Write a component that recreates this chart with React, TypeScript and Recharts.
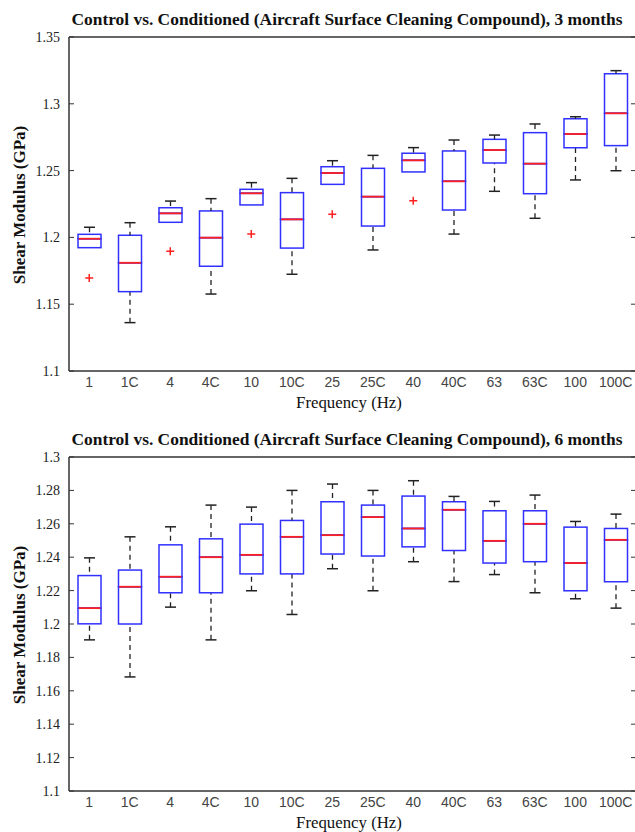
import React from "react";
import { ComposedChart, Bar, Line, XAxis, YAxis, ReferenceLine } from "recharts";

const categories = ["1", "1C", "4", "4C", "10", "10C", "25", "25C", "40", "40C", "63", "63C", "100", "100C"];

// 3 months
const min3 = [1.1923, 1.1362, 1.2113, 1.1576, 1.2243, 1.1724, 1.2397, 1.1906, 1.249, 1.2025, 1.2345, 1.2143, 1.243, 1.2499];
const q1_3 = [1.1923, 1.1594, 1.2113, 1.1784, 1.2243, 1.192, 1.2397, 1.2085, 1.249, 1.2205, 1.2557, 1.2327, 1.2671, 1.2687];
const med3 = [1.199, 1.181, 1.218, 1.1998, 1.233, 1.2135, 1.2482, 1.2305, 1.2577, 1.242, 1.2654, 1.2552, 1.2774, 1.2929];
const q3_3 = [1.2023, 1.2016, 1.2222, 1.2198, 1.236, 1.2335, 1.2529, 1.2517, 1.263, 1.2647, 1.2734, 1.2784, 1.2888, 1.3225];
const max3 = [1.2076, 1.211, 1.2272, 1.229, 1.241, 1.2442, 1.2574, 1.2614, 1.2672, 1.2729, 1.2766, 1.2849, 1.2903, 1.3248];
const out3 = [1.1696, null, 1.1896, null, 1.2025, null, 1.2173, null, 1.2275, null, null, null, null, null];
const ticks3 = [1.1, 1.15, 1.2, 1.25, 1.3, 1.35];

// 6 months
const min6 = [1.1905, 1.1683, 1.2101, 1.1905, 1.2199, 1.2057, 1.2331, 1.2199, 1.2373, 1.2254, 1.2296, 1.2187, 1.2151, 1.2095];
const q1_6 = [1.2001, 1.2, 1.2187, 1.2187, 1.23, 1.23, 1.2419, 1.2407, 1.2462, 1.244, 1.2365, 1.2373, 1.2199, 1.2253];
const med6 = [1.2095, 1.2223, 1.2283, 1.24, 1.2414, 1.2522, 1.2532, 1.264, 1.2572, 1.2684, 1.2498, 1.26, 1.2365, 1.2504];
const q3_6 = [1.229, 1.2323, 1.2474, 1.251, 1.2598, 1.262, 1.2732, 1.2712, 1.2766, 1.2732, 1.2678, 1.2678, 1.258, 1.2572];
const max6 = [1.2396, 1.2522, 1.2582, 1.2712, 1.27, 1.28, 1.2838, 1.28, 1.2858, 1.2764, 1.2734, 1.2772, 1.2614, 1.2658];
const ticks6 = [1.1, 1.12, 1.14, 1.16, 1.18, 1.2, 1.22, 1.24, 1.26, 1.28, 1.3];

const W = 645;
const H = 420;
const AXIS_X = 69;
const PLOT_RIGHT = 636;
const CAP = 11;
const BLUE = "#3030ff";
const RED = "#ff2020";
const INK = "#222";
const SERIF = "'Liberation Serif', 'Times New Roman', serif";
const SANS = "'Liberation Sans', Arial, sans-serif";

function buildRows(mins: number[], q1s: number[], meds: number[], q3s: number[], maxs: number[], outs?: (number | null)[]) {
  return categories.map((c, i) => ({
    cat: c,
    base: mins[i],
    lw: q1s[i] - mins[i],
    lb: meds[i] - q1s[i],
    hb: q3s[i] - meds[i],
    hw: maxs[i] - q3s[i],
    outlier: outs ? outs[i] : null,
  }));
}

const Empty = () => <g />;

const LowWhisker = (p: any) => {
  const { x, y, width, height } = p;
  if (!height || height < 0.5) return <g />;
  const cx = x + width / 2;
  return (
    <g>
      <line x1={cx} x2={cx} y1={y + height} y2={y} stroke={INK} strokeWidth={1.3} strokeDasharray="5 4" />
      <line x1={cx - CAP / 2} x2={cx + CAP / 2} y1={y + height} y2={y + height} stroke={INK} strokeWidth={1.5} />
    </g>
  );
};

const HighWhisker = (p: any) => {
  const { x, y, width, height } = p;
  if (!height || height < 0.5) return <g />;
  const cx = x + width / 2;
  return (
    <g>
      <line x1={cx} x2={cx} y1={y} y2={y + height} stroke={INK} strokeWidth={1.3} strokeDasharray="5 4" />
      <line x1={cx - CAP / 2} x2={cx + CAP / 2} y1={y} y2={y} stroke={INK} strokeWidth={1.5} />
    </g>
  );
};

const LowBox = (p: any) => {
  const { x, y, width, height } = p;
  return <rect x={x} y={y} width={width} height={Math.max(height, 0)} fill="none" stroke={BLUE} strokeWidth={1.5} />;
};

const HighBox = (p: any) => {
  const { x, y, width, height } = p;
  return (
    <g>
      <rect x={x} y={y} width={width} height={Math.max(height, 0)} fill="none" stroke={BLUE} strokeWidth={1.5} />
      <line x1={x + 0.75} x2={x + width - 0.75} y1={y + height} y2={y + height} stroke={RED} strokeWidth={1.8} />
    </g>
  );
};

const Plus = (p: any) => {
  const { cx, cy, value, index } = p;
  if (value == null || cy == null || isNaN(cy)) return <g key={`o${index}`} />;
  return (
    <path key={`o${index}`} d={`M${cx - 4},${cy}H${cx + 4}M${cx},${cy - 4}V${cy + 4}`} stroke={RED} strokeWidth={1.5} fill="none" />
  );
};

const YTick = (p: any) => {
  const { x, y, payload } = p;
  return (
    <g>
      <line x1={AXIS_X} x2={AXIS_X + 5} y1={y} y2={y} stroke="#333" strokeWidth={1} />
      <line x1={PLOT_RIGHT - 5} x2={PLOT_RIGHT} y1={y} y2={y} stroke="#333" strokeWidth={1} />
      <text x={x} y={y} dy="0.35em" textAnchor="end" fontFamily={SERIF} fontSize={14} fill={INK}>
        {String(payload.value)}
      </text>
    </g>
  );
};

function BoxPanel({ title, rows, ticks }: { title: string; rows: any[]; ticks: number[] }) {
  const lo = ticks[0];
  const hi = ticks[ticks.length - 1];
  return (
    <div style={{ position: "relative", width: 635, height: H }}>
      <div
        style={{
          position: "absolute",
          left: 347,
          top: 10,
          transform: "translateX(-50%)",
          whiteSpace: "nowrap",
          fontFamily: SERIF,
          fontWeight: "bold",
          fontSize: 17.4,
          lineHeight: "18px",
          color: "#111",
        }}
      >
        {title}
      </div>
      <div
        style={{
          position: "absolute",
          left: 20,
          top: 205,
          transform: "translate(-50%, -50%) rotate(-90deg)",
          whiteSpace: "nowrap",
          fontFamily: SERIF,
          fontWeight: "bold",
          fontSize: 17,
          lineHeight: "18px",
          color: "#111",
        }}
      >
        Shear Modulus (GPa)
      </div>
      <div
        style={{
          position: "absolute",
          left: 349,
          top: 403,
          transform: "translate(-50%, -50%)",
          whiteSpace: "nowrap",
          fontFamily: SERIF,
          fontSize: 16.8,
          lineHeight: "18px",
          color: "#111",
        }}
      >
        Frequency (Hz)
      </div>
      <ComposedChart width={W} height={H} data={rows} margin={{ top: 37, right: W - PLOT_RIGHT, bottom: 19, left: 0 }} barSize={23}>
        <XAxis
          dataKey="cat"
          interval={0}
          tickLine={false}
          tickSize={0}
          tickMargin={6}
          height={30}
          axisLine={{ stroke: "#333", strokeWidth: 1.5 }}
          tick={{ fontFamily: SANS, fontSize: 14, fill: "#444" }}
        />
        <YAxis
          type="number"
          domain={[lo, hi]}
          ticks={ticks}
          allowDataOverflow
          width={AXIS_X}
          tickLine={false}
          tickSize={0}
          tickMargin={9}
          axisLine={{ stroke: "#333", strokeWidth: 1.5 }}
          tick={YTick}
        />
        <ReferenceLine y={hi} stroke="#333" strokeWidth={1.5} />
        <Bar dataKey="base" stackId="b" shape={Empty} isAnimationActive={false} />
        <Bar dataKey="lw" stackId="b" shape={LowWhisker} isAnimationActive={false} />
        <Bar dataKey="lb" stackId="b" shape={LowBox} isAnimationActive={false} />
        <Bar dataKey="hb" stackId="b" shape={HighBox} isAnimationActive={false} />
        <Bar dataKey="hw" stackId="b" shape={HighWhisker} isAnimationActive={false} />
        <Line dataKey="outlier" stroke="none" dot={Plus} activeDot={false} legendType="none" isAnimationActive={false} />
      </ComposedChart>
    </div>
  );
}

export default function App() {
  const rows3 = buildRows(min3, q1_3, med3, q3_3, max3, out3);
  const rows6 = buildRows(min6, q1_6, med6, q3_6, max6);
  return (
    <div style={{ position: "absolute", left: 0, top: 0, width: 635, height: 832, overflow: "hidden", background: "#fff" }}>
      <BoxPanel title="Control vs. Conditioned (Aircraft Surface Cleaning Compound), 3 months" rows={rows3} ticks={ticks3} />
      <BoxPanel title="Control vs. Conditioned (Aircraft Surface Cleaning Compound), 6 months" rows={rows6} ticks={ticks6} />
    </div>
  );
}
